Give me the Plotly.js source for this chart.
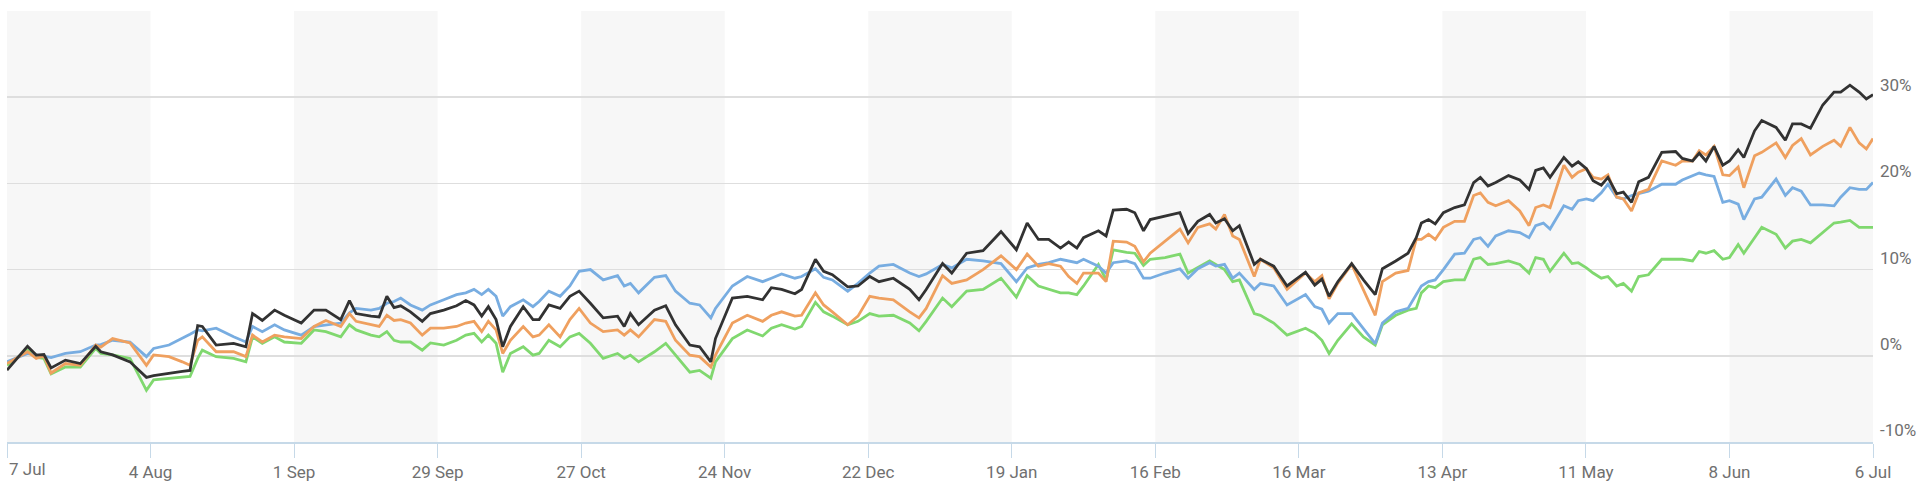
<!DOCTYPE html>
<html><head><meta charset="utf-8">
<script src="https://cdn.plot.ly/plotly-3.0.1.min.js"></script>
<style>html,body{margin:0;padding:0;background:#fff}#chart{width:1920px;height:491px}</style>
</head><body><div id="chart"></div>
<script>
// x ticks: days since 7 Jul, every 4 weeks
const tickDays = [0,28,56,84,112,140,168,196,224,252,280,308,336,364];
const tickLabels = ['7 Jul','4 Aug','1 Sep','29 Sep','27 Oct','24 Nov','22 Dec','19 Jan','16 Feb','16 Mar','13 Apr','11 May','8 Jun','6 Jul'];
const yTicks = [-10,0,10,20,30,40];
const yLabels = ['-10%','0%','10%','20%','30%',''];

// sample positions (days since 7 Jul)
const days = [0,4.0,5.7,7.2,8.6,11.4,14.3,17.3,18.3,20.6,24.0,27.2,28.6,31.6,34.2,35.7,37.2,38.1,40.8,44.2,46.6,47.9,49.8,52.2,54.1,57.4,59.9,62.2,65.1,66.8,68.1,71.0,72.6,74.1,75.5,76.8,78.7,81.0,82.6,85.2,87.7,89.5,91.1,92.6,93.9,95.4,96.7,98.2,100.7,102.6,103.8,105.7,107.9,109.8,111.6,113.8,116.3,119.1,120.4,121.6,123.2,126.3,128.5,130.4,133.2,135.1,137.3,138.2,141.5,144.4,147.4,149.1,151.1,153.7,155.0,157.7,159.3,161.0,164.0,166.0,168.3,170.1,172.9,176.1,177.9,179.3,182.5,184.3,187.2,190.4,193.9,196.9,199.0,201.2,203.2,205.5,207.1,208.7,210.0,212.9,214.4,215.8,218.4,220.0,221.7,223.0,225.9,228.8,230.4,232.3,234.6,235.8,237.5,239.1,240.4,243.3,244.5,247.1,249.7,253.3,255.1,256.5,257.9,259.6,262.3,264.6,266.9,268.3,270.9,273.3,274.9,275.9,277.3,278.6,280.2,282.4,284.3,286.1,287.4,288.9,290.4,292.9,295.1,296.9,298.2,299.7,301.0,303.7,305.3,306.5,308.1,309.4,311.0,312.3,314.0,315.3,316.9,318.3,320.2,322.8,325.5,326.8,328.8,330.1,331.4,333.0,334.7,336.0,337.7,338.8,340.9,342.3,345.1,346.9,348.3,350.0,351.8,354.2,356.4,357.7,359.5,361.3,362.7,364];

const seriesBlack = [-1.67,1.1,0.08,0.15,-1.4,-0.5,-0.9,1.1,0.47,0.1,
-0.7,-2.5,-2.3,-2.0,-1.8,-1.7,3.5,3.4,1.25,1.45,
1.05,4.9,4.1,5.3,4.7,3.8,5.3,5.3,4.2,6.4,
4.9,4.6,4.5,6.9,5.6,5.8,5.1,4.0,4.9,5.3,
5.8,6.4,5.9,4.6,5.7,4.2,1.05,3.4,5.7,4.2,
4.2,5.9,5.5,6.9,7.5,6.1,4.4,4.6,3.4,4.9,
3.6,5.3,5.8,3.6,1.25,1.05,-0.7,2.0,6.7,6.9,
6.5,7.9,7.7,7.2,7.7,11.2,9.8,9.4,8.0,8.1,
9.2,8.6,9.0,7.7,6.5,7.7,10.7,9.6,11.9,12.2,
14.4,12.3,15.4,13.5,13.5,12.5,13.2,12.5,13.7,14.5,
13.9,16.9,17.0,16.6,14.5,15.8,16.2,16.6,14.2,15.6,
16.4,15.4,15.9,14.5,15.1,10.6,11.2,10.4,8.1,9.7,
8.2,8.9,6.9,8.6,10.7,8.8,7.1,10.1,11.0,11.9,
13.7,15.4,15.8,15.3,16.6,17.2,17.5,20.1,20.7,19.7,
20.1,20.9,20.4,19.3,21.5,21.8,20.7,23.0,22.0,22.5,
21.7,20.3,19.8,20.7,18.8,19.0,17.8,20.2,20.7,23.6,
23.7,22.9,22.6,23.5,22.6,24.3,22.1,22.6,23.9,23.0,
26.1,27.3,26.5,25.0,26.9,26.9,26.4,29.1,30.6,30.6,
31.4,30.6,29.8,30.3];

const seriesOrange = [-0.9,0.47,-0.3,0,-2.0,-0.9,-1.1,1.25,1.0,2.0,
1.5,-1.1,0.1,-0.1,-0.7,-1.1,1.8,2.2,0.47,0.47,
-0.1,2.4,1.6,2.4,2.2,2.0,3.4,4.1,3.4,4.9,
4.0,3.6,3.4,4.7,4.1,4.2,3.8,2.4,3.2,3.2,
3.4,3.8,4.0,2.8,4.0,3.0,0.27,1.8,3.4,2.2,
2.4,3.6,2.2,4.2,5.5,3.8,2.8,3.0,2.4,3.0,
2.2,4.2,4.0,1.8,0.08,-0.1,-1.3,0.08,3.8,4.7,
4.0,4.7,5.1,4.6,4.7,7.3,5.9,5.1,3.6,4.6,
6.9,6.7,6.5,5.1,4.4,5.5,9.3,8.4,8.8,10.0,
11.6,10.0,11.8,10.4,10.7,10.4,9.2,8.4,9.6,9.6,
8.6,13.3,13.2,12.7,10.9,11.9,13.3,14.7,13.1,14.9,
15.3,14.7,16.4,13.9,13.5,9.2,11.2,10.2,7.7,9.6,
8.6,9.3,6.6,8.4,10.6,7.7,4.7,8.6,9.6,9.9,
13.5,13.5,14.1,13.5,14.9,15.6,15.6,18.6,18.9,17.8,
17.4,18.0,16.8,15.1,17.2,17.5,17.2,22.1,20.7,21.3,
21.7,20.7,20.5,21.0,18.4,18.2,16.8,18.9,19.3,22.6,
22.1,22.6,22.6,23.8,23.3,24.3,21.0,20.9,21.9,19.5,
23.2,23.6,24.7,23.0,24.4,25.2,23.3,24.3,25.0,24.3,
26.5,24.7,24.0,25.2];

const seriesBlue = [-0.7,0.27,0.1,-0.1,-0.2,0.27,0.47,1.25,1.3,1.8,
1.6,-0.1,0.85,1.25,2.0,2.5,3.0,2.9,3.2,2.2,
1.6,3.4,2.8,3.6,3.0,2.4,3.4,3.6,3.8,5.0,
5.5,5.3,5.5,6.1,6.3,6.7,5.9,5.3,5.9,6.5,
7.1,7.3,7.7,7.1,7.7,6.9,4.6,5.7,6.5,5.7,
6.3,7.5,6.9,8.1,9.8,10.0,8.8,9.3,8.1,8.4,
7.3,9.1,9.3,7.5,6.1,5.9,4.4,5.5,8.1,9.2,
8.6,9.0,9.5,9.0,9.2,10.1,9.1,8.8,7.5,8.4,
9.6,10.4,10.6,9.6,9.2,9.5,10.6,10.2,11.2,11.0,
10.7,8.6,10.2,10.6,10.8,11.2,11.0,10.8,11.2,10.4,
9.6,10.8,11.0,10.7,9.0,9.0,9.6,10.1,9.0,10.1,
10.8,10.4,10.6,9.0,9.6,7.7,8.4,8.1,5.9,7.1,
5.7,5.4,3.8,4.9,4.9,3.1,1.4,3.8,5.1,5.5,
7.1,8.1,8.6,8.8,10.0,11.8,11.9,13.5,13.7,12.7,
13.9,14.5,14.3,13.7,15.1,15.4,14.7,17.4,17.0,18.0,
18.2,18.0,18.9,19.9,18.4,18.2,18.6,18.8,19.1,19.9,
19.9,20.4,20.9,21.2,21.0,20.8,17.8,18.0,17.6,15.8,
18.2,18.4,20.5,18.6,19.5,19.1,17.5,17.5,17.4,18.4,
19.5,19.3,19.3,20.1];

const seriesGreen = [-1.1,0.66,-0.2,-0.3,-2.1,-1.3,-1.3,0.85,0.27,0.1,
-0.3,-4.0,-2.8,-2.6,-2.5,-2.4,-0.3,0.66,-0.1,-0.3,
-0.7,2.2,1.45,2.2,1.6,1.45,3.0,2.8,2.2,3.6,
3.0,2.4,2.2,2.8,1.8,1.6,1.6,0.66,1.5,1.25,
1.8,2.4,2.6,1.6,2.4,1.45,-1.9,0.27,1.05,0.08,
0.27,1.8,1.05,2.2,2.6,1.45,-0.3,0.27,-0.3,0.08,
-0.7,0.47,1.45,0.08,-1.9,-1.7,-2.6,-0.7,2.0,3.0,
2.3,3.2,3.6,3.1,3.4,6.2,5.1,4.6,3.6,4.0,
4.9,4.6,4.7,3.8,2.9,4.0,6.7,5.7,7.5,7.7,
9.0,6.8,9.3,8.1,7.7,7.3,7.3,7.1,8.1,10.6,
8.8,12.3,12.0,11.9,10.5,11.2,11.4,11.8,9.6,10.2,
11.0,10.6,10.0,8.6,8.8,4.9,4.7,3.8,2.4,3.2,
2.6,1.8,0.27,1.8,3.7,2.2,1.25,3.6,4.7,5.3,
5.5,7.3,8.1,7.9,8.6,8.8,8.8,11.2,11.4,10.6,
10.7,11.0,10.6,9.6,11.4,11.2,9.8,11.9,10.7,10.8,
10.2,9.6,9.0,9.2,8.1,8.4,7.5,9.2,9.4,11.2,
11.2,11.2,11.0,12.1,11.9,12.2,11.2,11.4,12.9,11.9,
13.7,14.9,14.1,12.5,13.3,13.5,13.1,14.3,15.4,15.5,
15.7,14.9,14.9,14.9];

const colors = {black:'#323232', orange:'#efa05f', blue:'#78ade1', green:'#80d86f'};

function line(name, y, color){
  return {x: days, y: y, name: name, type:'scatter', mode:'lines',
          line:{color: color, width: 2.8, shape:'linear'}, hoverinfo:'skip'};
}
const traces = [
  line('Series 4', seriesGreen, colors.green),
  line('Series 3', seriesBlue, colors.blue),
  line('Series 2', seriesOrange, colors.orange),
  line('Series 1', seriesBlack, colors.black)
];

// alternating background bands between x ticks
const shapes = [];
for (let i = 0; i < tickDays.length - 1; i += 2) {
  shapes.push({type:'rect', xref:'x', yref:'y', layer:'below',
    x0: tickDays[i], x1: tickDays[i+1], y0: yTicks[0], y1: yTicks[yTicks.length-1],
    fillcolor:'#f7f7f7', line:{width:0}});
}

const fontFam = 'Roboto, sans-serif';
const tickFont = {family:fontFam, size:17, color:'#707070'};

// first label is left-justified at the chart edge (like the reference); others centred on their ticks
const axisText = tickLabels.map((t, i) => i === 0 ? '' : t);
const annotations = [{
  xref:'x', yref:'paper', x: tickDays[0], y: 0, xanchor:'left', yanchor:'top',
  yshift:-15, text: tickLabels[0], showarrow:false, font: tickFont
}];

const layout = {
  width:1920, height:491,
  margin:{l:7, r:47, t:11, b:49, pad:0},
  paper_bgcolor:'#ffffff', plot_bgcolor:'#ffffff',
  showlegend:false,
  shapes: shapes,
  annotations: annotations,
  xaxis:{
    type:'linear', range:[tickDays[0], tickDays[tickDays.length-1]],
    tickmode:'array', tickvals: tickDays, ticktext: axisText,
    showgrid:false, zeroline:false,
    showline:true, linecolor:'#c6d9e8', linewidth:1.5,
    ticks:'outside', ticklen:14, tickwidth:1, tickcolor:'#c6d9e8',
    ticklabeloverflow:'allow',
    tickfont: tickFont,
    fixedrange:true
  },
  yaxis:{
    range:[yTicks[0], yTicks[yTicks.length-1]],
    side:'right', tickmode:'array', tickvals:yTicks, ticktext:yLabels,
    showgrid:true, gridcolor:'#dedede', gridwidth:1.6,
    zeroline:false, showline:false, ticks:'',
    ticklabelstandoff:6, ticklabelshift:-12,
    ticklabeloverflow:'allow',
    tickfont: tickFont,
    fixedrange:true
  }
};

Plotly.newPlot('chart', traces, layout, {displayModeBar:false, staticPlot:true});
</script>
</body></html>
